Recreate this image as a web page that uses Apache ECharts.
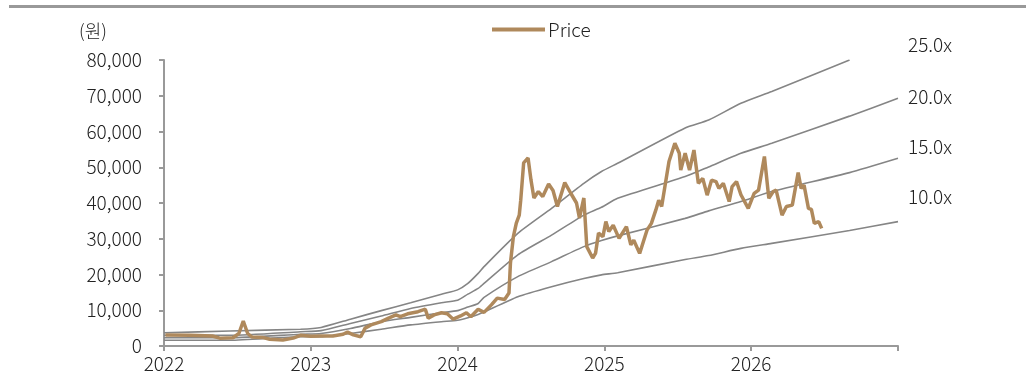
<!DOCTYPE html>
<html>
<head>
<meta charset="utf-8">
<script src="https://cdn.jsdelivr.net/npm/echarts@6/dist/echarts.min.js"></script>
<style>
	html, body { margin: 0; padding: 0; background: #fff; }
	#main { width: 1026px; height: 387px; }
</style>
</head>
<body>
<div id="main"></div>
<script>
// price (year fraction, won)
var priceDates = [2022.01, 2022.18, 2022.33, 2022.38, 2022.47, 2022.51, 2022.54, 2022.57, 2022.60, 2022.67,
	2022.72, 2022.81, 2022.88, 2022.93, 2023.00, 2023.07, 2023.15, 2023.22, 2023.25, 2023.29,
	2023.34, 2023.37, 2023.41, 2023.48, 2023.53, 2023.58, 2023.61, 2023.66, 2023.73, 2023.78,
	2023.80, 2023.84, 2023.89, 2023.93, 2023.97, 2024.02, 2024.06, 2024.09, 2024.14, 2024.18,
	2024.23, 2024.27, 2024.32, 2024.35, 2024.36, 2024.38, 2024.40, 2024.42, 2024.43, 2024.45,
	2024.48, 2024.50, 2024.52, 2024.55, 2024.58, 2024.62, 2024.65, 2024.68, 2024.73, 2024.77,
	2024.81, 2024.83, 2024.86, 2024.88, 2024.92, 2024.94, 2024.96, 2024.99, 2025.01, 2025.03,
	2025.06, 2025.10, 2025.15, 2025.18, 2025.20, 2025.24, 2025.29, 2025.32, 2025.35, 2025.37,
	2025.39, 2025.44, 2025.48, 2025.51, 2025.52, 2025.55, 2025.58, 2025.61, 2025.64, 2025.67,
	2025.70, 2025.73, 2025.76, 2025.78, 2025.81, 2025.85, 2025.87, 2025.90, 2025.93, 2025.98,
	2026.02, 2026.05, 2026.09, 2026.12, 2026.15, 2026.17, 2026.21, 2026.24, 2026.28, 2026.32,
	2026.34, 2026.36, 2026.39, 2026.41, 2026.43, 2026.46, 2026.48];
var priceValues = [3100, 3000, 2800, 2200, 2300, 3500, 7000, 3500, 2500, 2400,
	1900, 1700, 2200, 3000, 2700, 2800, 2800, 3300, 3900, 3100,
	2600, 5000, 5900, 6800, 7800, 8700, 8200, 9000, 9600, 10300,
	7800, 8700, 9300, 9000, 7500, 8400, 9300, 8200, 10300, 9400,
	11500, 13400, 13000, 14800, 23200, 30600, 34400, 36600, 40800, 51200,
	52600, 46400, 41400, 43200, 41800, 45300, 43500, 39000, 45700, 42800,
	40000, 35800, 41400, 27800, 24600, 26000, 31600, 30600, 34800, 32000,
	33800, 30100, 33400, 28300, 29600, 25900, 32400, 34300, 38000, 40800,
	39000, 51600, 56700, 53900, 49200, 53900, 49200, 54800, 45500, 46900,
	42200, 46400, 46000, 44100, 45500, 40400, 44600, 46000, 42300, 38500,
	42700, 43600, 53000, 41300, 43200, 43600, 36600, 39000, 39400, 48500,
	44100, 45000, 38500, 38200, 34300, 34800, 32900];

// PER bands
var bandDates = [2022.00, 2022.45, 2022.93, 2023.07, 2023.27, 2023.48, 2023.68, 2023.89, 2024.00, 2024.07,
	2024.14, 2024.18, 2024.41, 2024.64, 2024.86, 2024.98, 2025.09, 2025.55, 2025.71, 2025.93,
	2026.14, 2026.67, 2027.00];
var band25 = [3700, 4200, 4700, 5200, 7500, 9900, 12100, 14500, 15700, 17500,
	20300, 22200, 31500, 38500, 45500, 48800, 51100, 61000, 63200, 67900,
	71200, 80000, null];
var band20 = [3000, 3000, 4000, 4300, 6300, 8400, 10500, 12100, 12800, 14500,
	16100, 17500, 25500, 31000, 36600, 38800, 41300, 47400, 50100, 53900,
	56700, 64300, 69300];
var band15 = [2300, 2300, 3300, 3500, 4900, 6800, 8000, 9300, 9900, 10900,
	11900, 13600, 19400, 23600, 27800, 29500, 30800, 35700, 37800, 40400,
	43200, 48500, 52500];
var band10 = [1600, 1600, 2600, 2600, 3500, 4700, 5900, 6800, 7200, 7900,
	8800, 9500, 13800, 16600, 18900, 19900, 20500, 24200, 25300, 27300,
	28700, 32300, 34800];
var bandLabels = ['25.0x', '20.0x', '15.0x', '10.0x'];

function pairs(xs, ys) {
	var out = [];
	for (var i = 0; i < xs.length; i++) {
		if (ys[i] != null) out.push([xs[i], ys[i]]);
	}
	return out;
}

var font = '"Noto Sans CJK KR", "Noto Sans", sans-serif';
var dom = document.getElementById('main');
var myChart = echarts.init(dom);

function bandSeries(name, values) {
	return {
		name: name,
		type: 'line',
		data: pairs(bandDates, values),
		showSymbol: false,
		smooth: 0.2,
		lineStyle: { color: '#858585', width: 1.6 },
		z: 2,
		silent: true
	};
}

var labelTops = [35, 87, 137, 187];
var graphics = [{
	type: 'rect',
	left: 9, top: 5,
	shape: { width: 1017, height: 3 },
	style: { fill: '#999999' }
}];
for (var i = 0; i < bandLabels.length; i++) {
	graphics.push({
		type: 'text',
		left: 908, top: labelTops[i],
		style: { text: bandLabels[i], font: '300 19px ' + font, fill: '#222' }
	});
}

option = {
	animation: false,
	backgroundColor: '#fff',
	textStyle: { fontFamily: font, fontWeight: 300 },
	grid: { left: 164, right: 128, top: 60, bottom: 41 },
	legend: {
		data: ['Price'],
		left: 487, top: 15,
		icon: 'rect',
		itemWidth: 53, itemHeight: 4,
		itemGap: 4,
		textStyle: { fontSize: 19, fontWeight: 300, color: '#222', fontFamily: font, padding: [0, 0, 0, -2] }
	},
	xAxis: {
		type: 'value',
		min: 2022, max: 2027, interval: 1,
		splitLine: { show: false },
		axisLine: { lineStyle: { color: '#999', width: 2 } },
		axisTick: { length: 5, lineStyle: { color: '#999', width: 2 } },
		axisLabel: {
			fontSize: 19, fontWeight: 300, color: '#222', margin: 8,
			formatter: function (v) { return v === 2027 ? '' : String(v); }
		}
	},
	yAxis: {
		type: 'value',
		min: 0, max: 80000, interval: 10000,
		name: '(원)',
		nameLocation: 'end',
		nameGap: 20,
		nameTextStyle: { fontSize: 18, fontWeight: 300, color: '#222', align: 'right', padding: [0, 57, 0, 0] },
		splitLine: { show: false },
		axisLine: { show: true, lineStyle: { color: '#999', width: 2 } },
		axisTick: { show: true, length: 5, lineStyle: { color: '#999', width: 2 } },
		axisLabel: { fontSize: 19, fontWeight: 300, color: '#222', margin: 22 }
	},
	graphic: graphics,
	series: [
		bandSeries('25.0x', band25),
		bandSeries('20.0x', band20),
		bandSeries('15.0x', band15),
		bandSeries('10.0x', band10),
		{
			name: 'Price',
			type: 'line',
			data: pairs(priceDates, priceValues),
			showSymbol: false,
			itemStyle: { color: '#AF895C' },
			lineStyle: { color: '#AF895C', width: 3.5 },
			z: 3
		}
	]
};

if (option && typeof option === "object") {
	myChart.setOption(option, true);
}
</script>
</body>
</html>
